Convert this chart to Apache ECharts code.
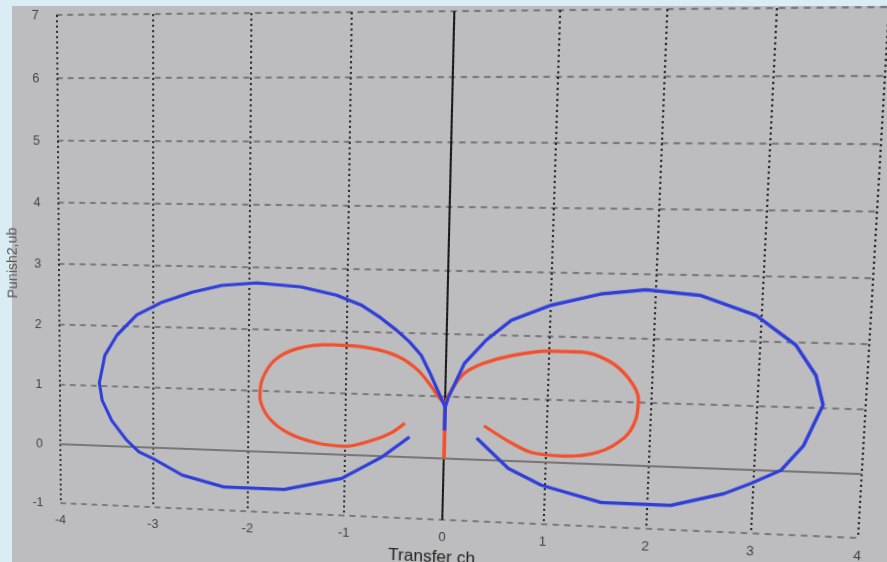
<!DOCTYPE html>
<html>
<head>
<meta charset="utf-8">
<script src="https://cdn.jsdelivr.net/npm/echarts@6/dist/echarts.min.js"></script>
<style>
  html, body { margin: 0; padding: 0; width: 887px; height: 562px; overflow: hidden; background: #daecf4; }
  #panel { position: absolute; left: 12px; top: 6px; right: 0; bottom: 0; background: #bdbdbf; }
  #chart { position: absolute; left: 0; top: 0; width: 887px; height: 562px; transform-origin: 0 0; }
</style>
</head>
<body>
<div id="panel"></div>
<div id="chart"></div>
<script>
// Axis ranges
const xRange = [-4, 4];
const yRange = [-1, 7];

// Outer (blue) loops
const blueLeft = [[0,0.46],[0,0.83],[-0.08,1.1],[-0.15,1.34],[-0.25,1.65],[-0.37,1.86],[-0.5,2.04],[-0.66,2.23],[-0.86,2.43],[-1.11,2.58],[-1.47,2.70],[-1.92,2.75],[-2.28,2.70],[-2.59,2.58],[-2.9,2.41],[-3.17,2.19],[-3.38,1.85],[-3.51,1.51],[-3.57,1.05],[-3.54,0.76],[-3.44,0.43],[-3.28,0.11],[-3.15,-0.08],[-2.99,-0.19],[-2.69,-0.44],[-2.25,-0.61],[-1.62,-0.61],[-1.03,-0.39],[-0.63,-0.02],[-0.35,0.33]];
const blueRight = [[0,0.46],[0,0.83],[0.03,0.99],[0.18,1.54],[0.39,1.92],[0.63,2.24],[1.01,2.49],[1.48,2.68],[1.91,2.76],[2.42,2.69],[2.95,2.40],[3.33,1.96],[3.53,1.50],[3.61,1.05],[3.55,0.81],[3.45,0.41],[3.25,0.01],[2.98,-0.21],[2.73,-0.39],[2.23,-0.61],[1.56,-0.61],[0.97,-0.37],[0.64,-0.12],[0.32,0.35]];

// Inner (red) loops
const redLeft = [[0,0],[0,0.86],[-0.07,0.99],[-0.14,1.15],[-0.28,1.41],[-0.48,1.62],[-0.75,1.74],[-1.15,1.78],[-1.49,1.71],[-1.73,1.51],[-1.86,1.18],[-1.88,0.90],[-1.79,0.57],[-1.58,0.32],[-1.27,0.17],[-1.0,0.14],[-0.73,0.25],[-0.53,0.39],[-0.40,0.55]];
const redRight = [[0,0],[0,0.86],[0.06,1.11],[0.18,1.38],[0.37,1.55],[0.66,1.69],[1.0,1.77],[1.31,1.77],[1.57,1.65],[1.77,1.39],[1.88,1.04],[1.86,0.72],[1.76,0.44],[1.51,0.19],[1.18,0.11],[0.86,0.15],[0.63,0.32],[0.39,0.55]];

const BLUE = '#2f3fd8';
const RED = '#f2502e';
const FONT = 'Liberation Sans, Arial, sans-serif';

// Plot rectangle inside the chart element
const G = { left: 60, top: 20, width: 780, height: 480 };

// Where the plot rectangle's corners land on the page (screen is viewed at an angle)
const corners = [[54, 15], [889, 7], [858, 538], [58, 503]];

function squareToQuad(q) {
  const [x0, y0] = q[0], [x1, y1] = q[1], [x2, y2] = q[2], [x3, y3] = q[3];
  const dx1 = x1 - x2, dx2 = x3 - x2, dx3 = x0 - x1 + x2 - x3;
  const dy1 = y1 - y2, dy2 = y3 - y2, dy3 = y0 - y1 + y2 - y3;
  const den = dx1 * dy2 - dx2 * dy1;
  const g = (dx3 * dy2 - dx2 * dy3) / den;
  const h = (dx1 * dy3 - dx3 * dy1) / den;
  return [
    [x1 - x0 + g * x1, x3 - x0 + h * x3, x0],
    [y1 - y0 + g * y1, y3 - y0 + h * y3, y0],
    [g, h, 1]
  ];
}
function mul(A, B) {
  const C = [[0,0,0],[0,0,0],[0,0,0]];
  for (let i = 0; i < 3; i++) for (let j = 0; j < 3; j++)
    for (let k = 0; k < 3; k++) C[i][j] += A[i][k] * B[k][j];
  return C;
}
const Hq = squareToQuad(corners);
const S = [[1 / G.width, 0, -G.left / G.width], [0, 1 / G.height, -G.top / G.height], [0, 0, 1]];
const M = mul(Hq, S);
document.getElementById('chart').style.transform =
  'matrix3d(' + [M[0][0], M[1][0], 0, M[2][0], M[0][1], M[1][1], 0, M[2][1], 0, 0, 1, 0, M[0][2], M[1][2], 0, M[2][2]].join(',') + ')';

const chart = echarts.init(document.getElementById('chart'), null, { renderer: 'canvas' });

function loop(data, color, smooth, z) {
  return {
    type: 'line', data: data, showSymbol: false, symbol: 'none', smooth: smooth, z: z,
    lineStyle: { color: color, width: 3.2 }, silent: true, animation: false
  };
}

// Zero lines through the origin, drawn beneath the curves
const zeroLines = {
  type: 'line', data: [], z: 1, silent: true, animation: false,
  markLine: {
    silent: true, symbol: 'none', animation: false, z: 1, label: { show: false },
    data: [
      { xAxis: 0, lineStyle: { color: '#111', width: 1.8, type: 'solid' } },
      { yAxis: 0, lineStyle: { color: '#777', width: 2, type: 'solid' } }
    ]
  }
};

chart.setOption({
  animation: false,
  backgroundColor: 'transparent',
  grid: { left: G.left, top: G.top, width: G.width, height: G.height, containLabel: false },
  xAxis: {
    type: 'value', min: xRange[0], max: xRange[1], interval: 1,
    name: 'Transfer ch', nameLocation: 'middle', nameGap: 23,
    nameTextStyle: { color: '#222', fontSize: 17, fontFamily: FONT, padding: [0, 20, 0, 0] },
    axisLine: { show: false }, axisTick: { show: false },
    axisLabel: { color: '#444', fontSize: 13, margin: 11, fontFamily: FONT },
    splitLine: { show: true, lineStyle: { color: '#151515', width: 1.7, type: [2, 3] } }
  },
  yAxis: {
    type: 'value', min: yRange[0], max: yRange[1], interval: 1,
    name: 'Punish2,ub', nameLocation: 'middle', nameGap: 32, nameRotate: 90,
    nameTextStyle: { color: '#555', fontSize: 14, fontFamily: FONT },
    axisLine: { show: false }, axisTick: { show: false },
    axisLabel: { color: '#444', fontSize: 13, margin: 18, fontFamily: FONT },
    splitLine: { show: true, lineStyle: { color: '#666', width: 1.6, type: [6, 5] } }
  },
  series: [
    zeroLines,
    loop(redLeft, RED, 0.3, 3),
    loop(redRight, RED, 0.3, 3),
    loop(blueLeft, BLUE, false, 4),
    loop(blueRight, BLUE, false, 4)
  ]
});
</script>
</body>
</html>
